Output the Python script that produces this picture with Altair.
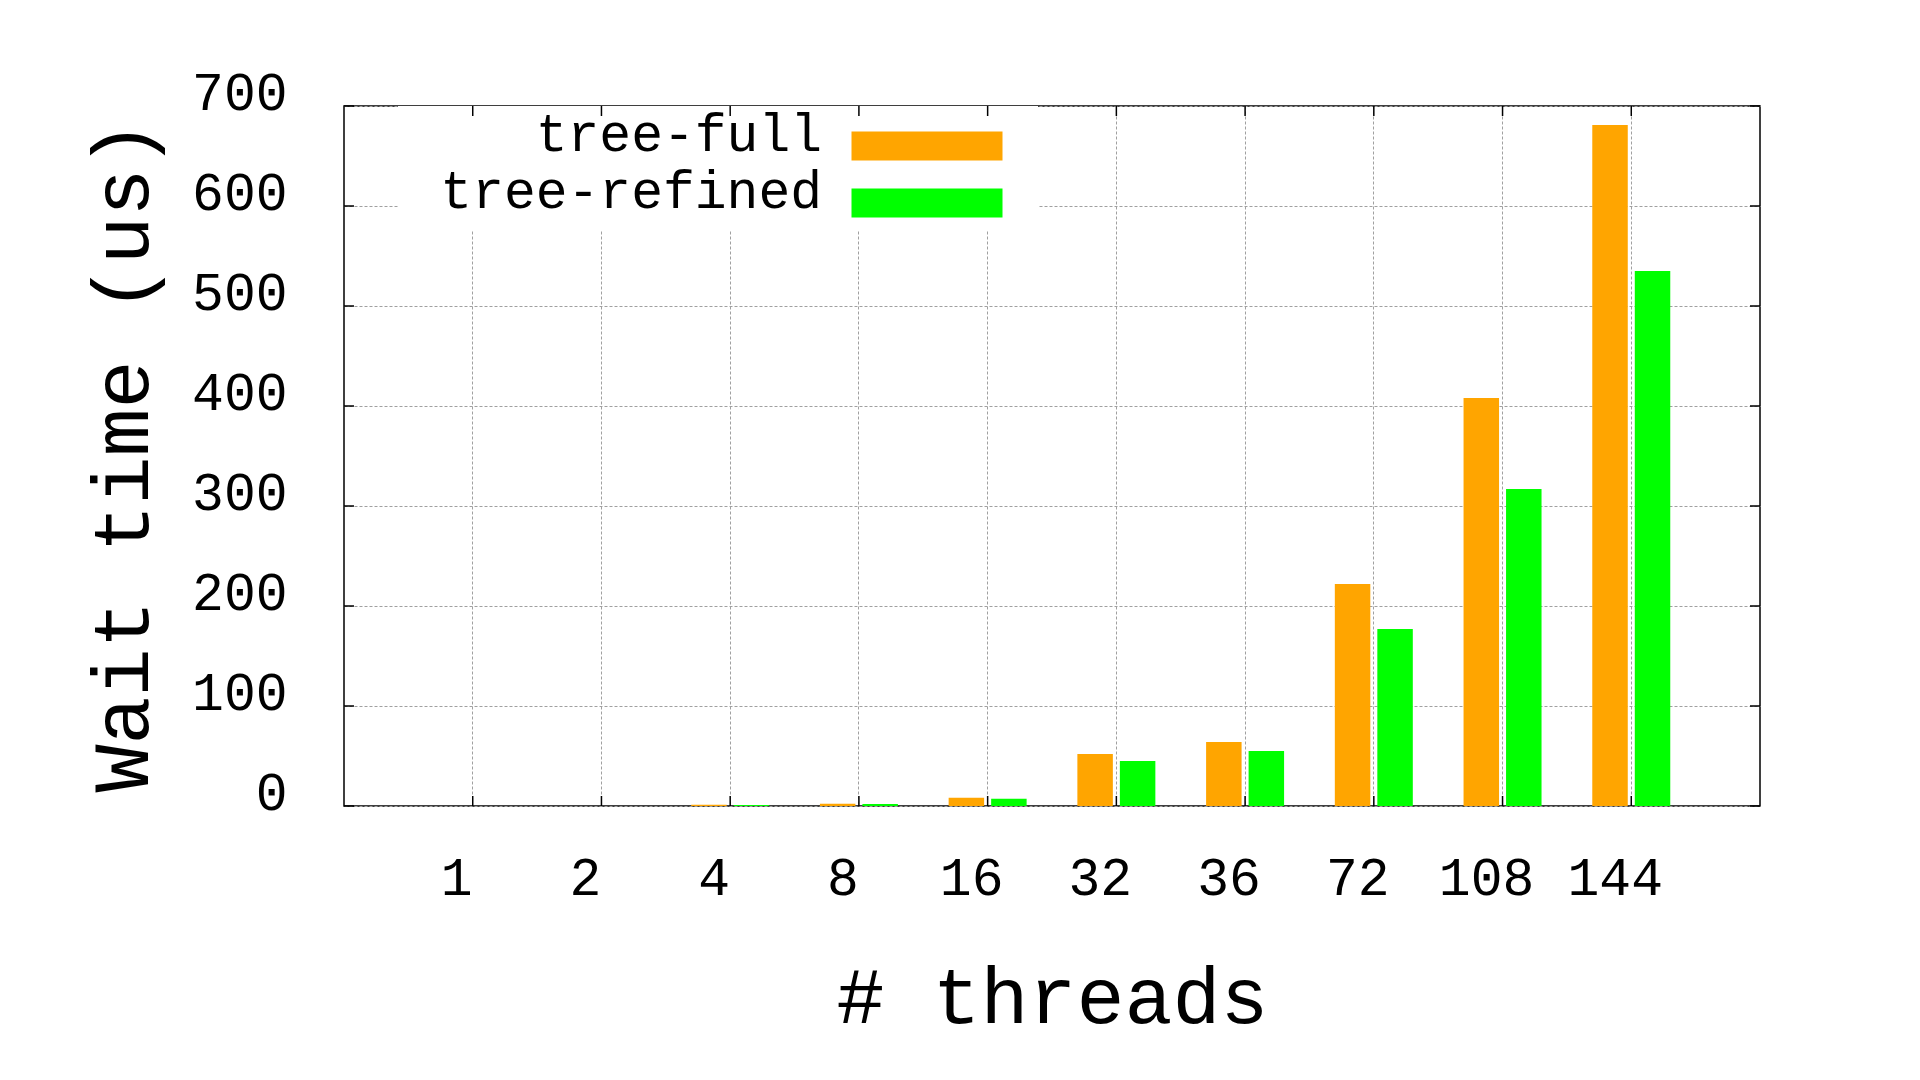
import altair as alt
import pandas as pd

threads = ['1', '2', '4', '8', '16', '32', '36', '72', '108', '144']
tree_full = [0, 0, 1.3, 2.3, 8.3, 52, 64, 222, 408, 681]
tree_refined = [0, 0, 1.0, 2.0, 7.3, 45, 55, 177, 317, 535]
series = ['tree-full', 'tree-refined']
colors = ['#ffa500', '#00ff00']
y_ticks = [0, 100, 200, 300, 400, 500, 600, 700]

W, H = 1416, 700
FONT = 'Liberation Mono'
LBL = 53

rows = []
for t, a, b in zip(threads, tree_full, tree_refined):
    rows.append({'threads': t, 'series': series[0], 'wait': a})
    rows.append({'threads': t, 'series': series[1], 'wait': b})
df = pd.DataFrame(rows)
ydf = pd.DataFrame({'wait': y_ticks})
xdf = pd.DataFrame({'threads': threads})

x_scale = alt.Scale(domain=threads, paddingInner=0, paddingOuter=0.5)
y_scale = alt.Scale(domain=[0, 700], nice=False, zero=True)

x_axis = alt.Axis(
    title='# threads', grid=True, gridColor='#a0a0a0', gridDash=[3, 2], gridWidth=1,
    domain=False, ticks=True, tickSize=0, labelAngle=0, labelFont=FONT, labelFontSize=LBL,
    labelColor='black', labelPadding=46, labelOffset=-16, labelBaseline='top',
    titleFont=FONT, titleFontSize=80, titleFontWeight='normal', titleColor='black',
    titleY=216, titleBaseline='alphabetic')
y_axis = alt.Axis(
    title='Wait time (us)', values=y_ticks, grid=True, gridColor='#a0a0a0', gridDash=[3, 2],
    gridWidth=1, domain=False, ticks=True, tickSize=0, labelFont=FONT, labelFontSize=LBL,
    labelColor='black', labelPadding=57, labelOffset=-13, labelAlign='right',
    labelBaseline='middle', labelFlush=False, labelOverlap=False,
    titleFont=FONT, titleFontSize=80, titleFontWeight='normal', titleColor='black',
    titleX=-197, titleY=350, titleAngle=270, titleBaseline='alphabetic', titleAlign='center')

# legend swatch (path in pixel units since symbolSize=4): sits right of its label
swatch = "M56,-19 L207,-19 L207,10 L56,10 Z"

# white box behind the key (hides the grid there, as in the original)
key_box = alt.Chart(pd.DataFrame({'k': [0]})).mark_rect(color='white').encode(
    x=alt.value(54), x2=alt.value(694), y=alt.value(0), y2=alt.value(124))

bars = alt.Chart(df).mark_bar().encode(
    x=alt.X('threads:N', sort=threads, scale=x_scale, axis=x_axis),
    xOffset=alt.XOffset('series:N', sort=series,
                        scale=alt.Scale(paddingInner=0.165, paddingOuter=0.597)),
    y=alt.Y('wait:Q', scale=y_scale, axis=y_axis),
    color=alt.Color('series:N', sort=series, scale=alt.Scale(domain=series, range=colors),
                    legend=alt.Legend(
                        title=None, orient='none', legendX=425, legendY=18,
                        direction='vertical', symbolType=swatch, symbolSize=4,
                        symbolStrokeWidth=0, symbolOpacity=1, symbolOffset=0,
                        labelFont=FONT, labelFontSize=LBL, labelColor='black',
                        labelAlign='right', labelOffset=0, labelBaseline='alphabetic',
                        labelLimit=1000, rowPadding=3, padding=0)),
)

tick_style = dict(color='black', strokeWidth=1.5)
left_ticks = alt.Chart(ydf).mark_rule(**tick_style).encode(
    y=alt.Y('wait:Q', scale=y_scale, axis=y_axis), x=alt.value(0), x2=alt.value(10))
right_ticks = alt.Chart(ydf).mark_rule(**tick_style).encode(
    y=alt.Y('wait:Q', scale=y_scale, axis=y_axis), x=alt.value(W - 10), x2=alt.value(W))
bottom_ticks = alt.Chart(xdf).mark_rule(**tick_style).encode(
    x=alt.X('threads:N', sort=threads, scale=x_scale, axis=x_axis),
    y=alt.value(H - 10), y2=alt.value(H))
top_ticks = alt.Chart(xdf).mark_rule(**tick_style).encode(
    x=alt.X('threads:N', sort=threads, scale=x_scale, axis=x_axis),
    y=alt.value(0), y2=alt.value(10))

chart = alt.layer(key_box, bars, left_ticks, right_ticks, bottom_ticks, top_ticks).properties(
    width=W, height=H,
    autosize=alt.AutoSizeParams(type='none'),
    padding={'left': 336, 'top': 98, 'right': 150, 'bottom': 250},
    background='white',
).configure_view(stroke='black', strokeWidth=1.5)

chart.save("out.html", embed_options={"renderer": "svg", "actions": False})
